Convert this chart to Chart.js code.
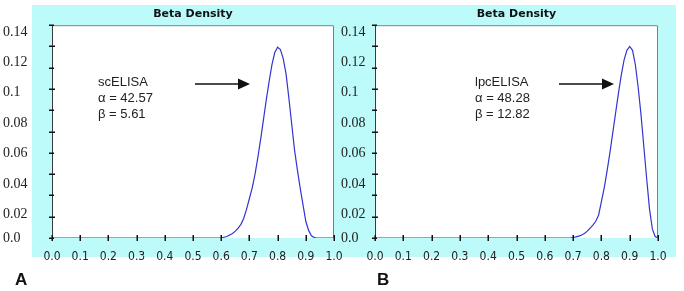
<!DOCTYPE html>
<html>
<head>
<meta charset="utf-8">
<script src="https://cdn.jsdelivr.net/npm/chart.js@4/dist/chart.umd.min.js"></script>
<style>
  html, body { margin: 0; padding: 0; background: #fff; width: 684px; height: 291px; overflow: hidden; }
  #bg { position: absolute; left: 32px; top: 5px; width: 644px; height: 252px; background: #bdfbfb; }
  canvas { position: absolute; top: 0; }
  #chartA { left: 0; }
  #chartB { left: 338px; }
  .note { position: absolute; top: 74px; font: 13px/16px 'Liberation Sans', Arial, sans-serif; color: #222; }
  .panel { position: absolute; top: 270px; font: bold 17px 'Liberation Sans', Arial, sans-serif; color: #111; }
  svg { position: absolute; left: 0; top: 0; }
</style>
</head>
<body>
<div id="bg"></div>
<canvas id="chartA" width="346" height="260"></canvas>
<canvas id="chartB" width="346" height="260"></canvas>
<div class="note" style="left:98px">scELISA<br>α = 42.57<br>β = 5.61</div>
<div class="note" style="left:475px">lpcELISA<br>α = 48.28<br>β = 12.82</div>
<svg width="684" height="291">
  <line x1="195" y1="84" x2="240" y2="84" stroke="#111" stroke-width="1.5"/>
  <polygon points="238,78.5 250,84 238,89.5" fill="#111"/>
  <line x1="559" y1="84" x2="604" y2="84" stroke="#111" stroke-width="1.5"/>
  <polygon points="602,78.5 614,84 602,89.5" fill="#111"/>
</svg>
<div class="panel" style="left:15px">A</div>
<div class="panel" style="left:377px">B</div>
<script>
document.addEventListener("DOMContentLoaded", function () {
    // scELISA curve
    const xA = [0, 0.60, 0.61, 0.62, 0.63, 0.64, 0.65, 0.66, 0.67, 0.68, 0.69, 0.70, 0.71, 0.72, 0.73, 0.74,
        0.75, 0.76, 0.77, 0.78, 0.79, 0.80, 0.81, 0.82, 0.83, 0.84, 0.85, 0.86, 0.87, 0.88, 0.89, 0.90,
        0.91, 0.92, 0.93, 0.94, 1.0];
    const densA = [0, 0, 0.0005, 0.001, 0.002, 0.003, 0.0045, 0.0065, 0.009, 0.013, 0.019, 0.026, 0.033, 0.042, 0.053, 0.065,
        0.078, 0.091, 0.103, 0.114, 0.122, 0.1255, 0.124, 0.118, 0.108, 0.092, 0.075, 0.058, 0.045, 0.033, 0.022, 0.011,
        0.005, 0.0015, 0.0003, 0, 0];

    // lpcELISA curve
    const xB = [0, 0.69, 0.70, 0.71, 0.72, 0.73, 0.74, 0.75, 0.76, 0.77, 0.78, 0.79, 0.80, 0.81, 0.82, 0.83,
        0.84, 0.85, 0.86, 0.87, 0.88, 0.89, 0.90, 0.91, 0.92, 0.93, 0.94, 0.95, 0.96, 0.97, 0.98, 0.99, 1.00];
    const densB = [0, 0, 0.0003, 0.0007, 0.0012, 0.002, 0.003, 0.0045, 0.0065, 0.0085, 0.011, 0.015, 0.024, 0.033, 0.044, 0.056,
        0.069, 0.082, 0.095, 0.107, 0.117, 0.1235, 0.126, 0.1235, 0.114, 0.099, 0.081, 0.060, 0.039, 0.019, 0.006, 0.001, 0];

    const xTicks = [0, 0.1, 0.2, 0.3, 0.4, 0.5, 0.6, 0.7, 0.8, 0.9, 1.0];
    const xTickLabels = ['0.0', '0.1', '0.2', '0.3', '0.4', '0.5', '0.6', '0.7', '0.8', '0.9', '1.0'];
    const yTicks = [0, 0.02, 0.04, 0.06, 0.08, 0.1, 0.12, 0.14];
    const yTickLabels = ['0.0', '0.02', '0.04', '0.06', '0.08', '0.1', '0.12', '0.14'];
    // small marks on the left axis (they do not line up with the labels)
    const yMarks = [0, 0.014, 0.028, 0.042, 0.056, 0.07, 0.084, 0.098, 0.112, 0.126, 0.14];

    const lineColor = '#3434d2';

    const framePlugin = {
        id: 'frame',
        beforeDraw(chart) {
            const { ctx, chartArea: a } = chart;
            ctx.save();
            ctx.fillStyle = '#ffffff';
            ctx.fillRect(a.left, a.top, a.right - a.left, a.bottom - a.top);
            ctx.restore();
        },
        afterDatasetsDraw(chart) {
            const { ctx, chartArea: a, scales } = chart;
            ctx.save();
            // top and right border
            ctx.strokeStyle = '#708484';
            ctx.lineWidth = 1;
            ctx.beginPath();
            ctx.moveTo(a.left, a.top + 0.5);
            ctx.lineTo(a.right - 0.5, a.top + 0.5);
            ctx.lineTo(a.right - 0.5, a.bottom);
            ctx.stroke();
            // left axis
            ctx.strokeStyle = '#3a3a3a';
            ctx.beginPath();
            ctx.moveTo(a.left + 0.5, a.top);
            ctx.lineTo(a.left + 0.5, a.bottom);
            ctx.stroke();
            // tick marks
            ctx.strokeStyle = '#111';
            ctx.lineWidth = 1.5;
            xTicks.forEach(function (v) {
                const px = Math.round(scales.x.getPixelForValue(v)) + 0.25;
                ctx.beginPath();
                ctx.moveTo(px, a.bottom - 3);
                ctx.lineTo(px, a.bottom + 3);
                ctx.stroke();
            });
            yMarks.forEach(function (v, i) {
                const py = Math.round(scales.y.getPixelForValue(v)) + 0.25;
                const len = (i % 2 === 1) ? 3 : 2;
                ctx.beginPath();
                ctx.moveTo(a.left - 3, py);
                ctx.lineTo(a.left + len, py);
                ctx.stroke();
            });
            ctx.restore();
        }
    };

    function makeChart(id, xs, ys, yWidth, pad) {
        const points = xs.map(function (x, i) { return { x: x, y: ys[i] }; });
        return new Chart(document.getElementById(id), {
            type: 'line',
            data: {
                datasets: [{
                    data: points,
                    borderColor: lineColor,
                    borderWidth: 1.2,
                    pointRadius: 0,
                    tension: 0,
                    fill: false
                }]
            },
            options: {
                responsive: false,
                animation: false,
                layout: { padding: pad },
                plugins: {
                    legend: { display: false },
                    tooltip: { enabled: false },
                    title: {
                        display: true,
                        text: 'Beta Density',
                        fullSize: false,
                        color: '#111',
                        font: { family: "'DejaVu Sans', Verdana, sans-serif", size: 11, weight: 'bold', lineHeight: 1.2 },
                        padding: { top: 8, bottom: 4 }
                    }
                },
                scales: {
                    x: {
                        type: 'linear',
                        min: 0,
                        max: 1,
                        grid: { display: false },
                        border: { display: false },
                        afterBuildTicks: function (s) { s.ticks = xTicks.map(function (v) { return { value: v }; }); },
                        afterFit: function (s) { s.height = 22; s.paddingLeft = 0; s.paddingRight = 0; },
                        ticks: {
                            autoSkip: false,
                            maxRotation: 0,
                            padding: 4,
                            color: '#222',
                            font: { family: "'DejaVu Sans Condensed', 'Liberation Sans Narrow', sans-serif", size: 12 },
                            callback: function (v, i) { return xTickLabels[i]; }
                        }
                    },
                    y: {
                        min: 0,
                        max: 0.14,
                        grid: { display: false },
                        border: { display: false },
                        afterBuildTicks: function (s) { s.ticks = yTicks.map(function (v) { return { value: v }; }); },
                        afterFit: function (s) { s.width = yWidth; s.paddingTop = 0; s.paddingBottom = 0; },
                        ticks: {
                            crossAlign: 'far',
                            color: '#222',
                            font: { family: "'Liberation Serif', 'Times New Roman', serif", size: 14, lineHeight: 0.95 },
                            // labels sit a little under their value, except the 0.0
                            callback: function (v, i) { return i === 0 ? yTickLabels[0] : ['', yTickLabels[i]]; }
                        }
                    }
                }
            },
            plugins: [framePlugin]
        });
    }

    makeChart('chartA', xA, densA, 49, { left: 3, right: 12, top: 0, bottom: 0 });
    makeChart('chartB', xB, densB, 34, { left: 3, right: 26, top: 0, bottom: 0 });
});
</script>
</body>
</html>
